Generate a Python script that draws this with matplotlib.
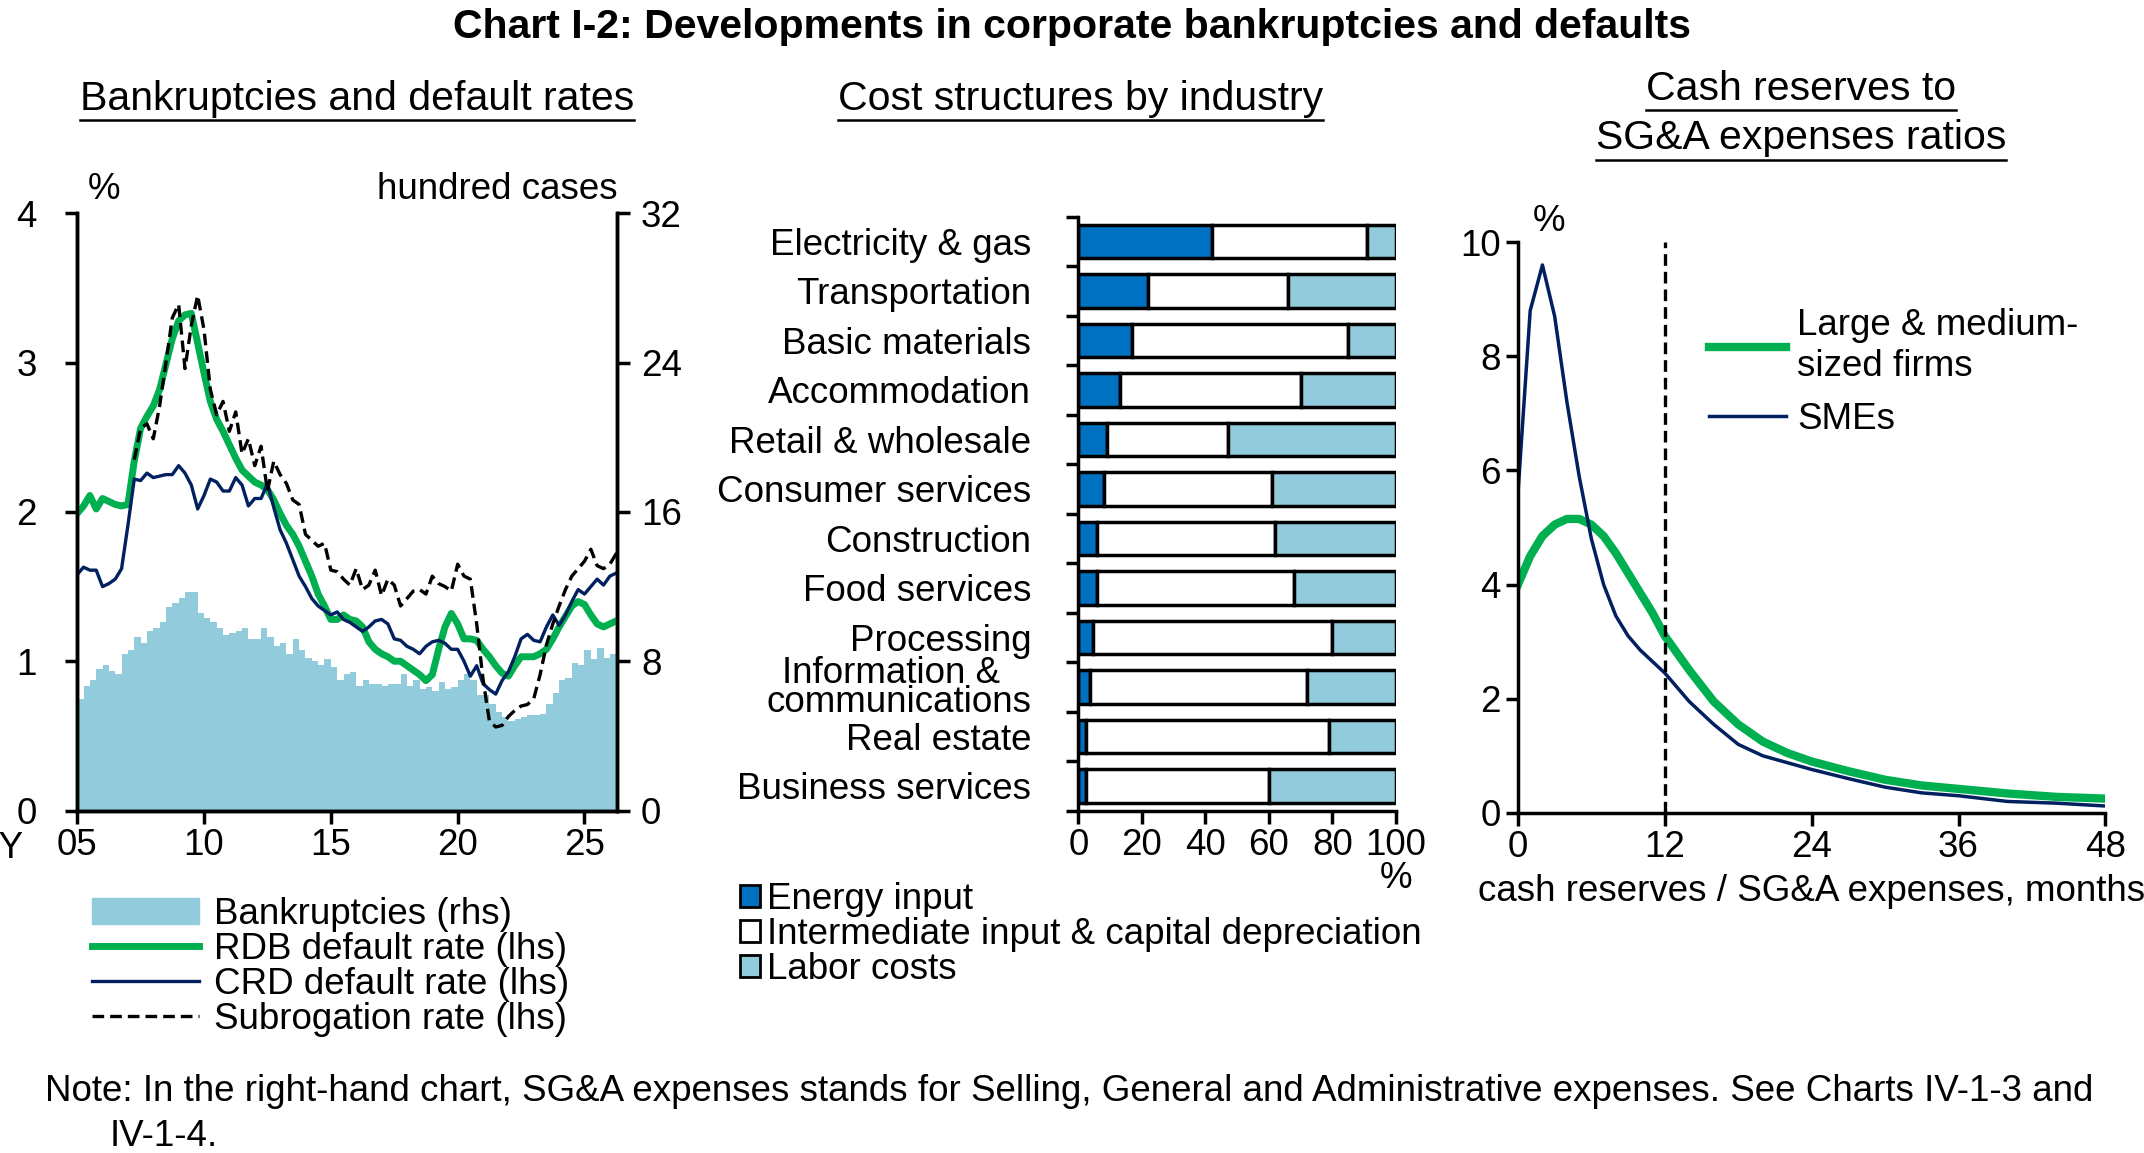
import matplotlib
matplotlib.use("Agg")
import matplotlib.pyplot as plt
import numpy as np
from matplotlib.lines import Line2D
from matplotlib.patches import Patch

plt.rcParams['font.family'] = ['Liberation Sans', 'DejaVu Sans']
plt.rcParams['font.size'] = 26.5

# ---- left panel: quarterly from CY2005
bankruptcies = [6.0, 6.7, 7.0, 7.6, 7.8, 7.5, 7.3, 8.4, 8.6, 9.3, 9.0, 9.6, 9.8, 10.1, 10.9, 11.1,
                11.4, 11.7, 11.7, 10.6, 10.3, 10.1, 9.8, 9.4, 9.5, 9.6, 9.8, 9.2, 9.2, 9.8, 9.3, 8.8,
                9.0, 8.4, 9.2, 8.6, 8.2, 8.0, 7.8, 8.1, 7.7, 7.0, 7.3, 7.4, 6.7, 7.0, 6.8, 6.8,
                6.7, 6.8, 6.8, 7.3, 6.7, 7.0, 6.5, 6.6, 6.4, 6.9, 6.5, 6.6, 7.0, 7.3, 7.0, 6.2,
                6.2, 5.7, 5.3, 5.0, 4.8, 4.9, 5.0, 5.1, 5.1, 5.2, 5.7, 6.3, 7.0, 7.1, 7.9, 7.8,
                8.6, 8.1, 8.7, 8.2, 8.4, 8.7, 8.8]
rdb_rate = [1.99, 2.04, 2.11, 2.02, 2.09, 2.07, 2.05, 2.04, 2.05, 2.34, 2.56, 2.64, 2.71, 2.82, 2.99, 3.16,
            3.28, 3.32, 3.33, 3.13, 2.93, 2.74, 2.62, 2.54, 2.45, 2.36, 2.28, 2.24, 2.20, 2.18, 2.15, 2.08,
            1.99, 1.91, 1.85, 1.77, 1.67, 1.57, 1.45, 1.37, 1.28, 1.28, 1.31, 1.28, 1.27, 1.23, 1.13, 1.08,
            1.05, 1.03, 1.00, 1.00, 0.97, 0.94, 0.91, 0.87, 0.91, 1.08, 1.23, 1.32, 1.25, 1.15, 1.15, 1.14,
            1.08, 1.03, 0.97, 0.92, 0.90, 0.97, 1.03, 1.03, 1.03, 1.05, 1.08, 1.15, 1.23, 1.30, 1.37, 1.40,
            1.38, 1.31, 1.25, 1.23, 1.25, 1.27, 1.27]
crd_rate = [1.58, 1.63, 1.61, 1.61, 1.50, 1.52, 1.55, 1.62, 1.91, 2.22, 2.21, 2.26, 2.23, 2.24, 2.25, 2.25,
            2.31, 2.26, 2.18, 2.02, 2.11, 2.22, 2.20, 2.14, 2.14, 2.23, 2.18, 2.04, 2.09, 2.09, 2.19, 2.03,
            1.88, 1.79, 1.68, 1.57, 1.50, 1.42, 1.37, 1.34, 1.31, 1.33, 1.28, 1.26, 1.23, 1.20, 1.23, 1.27,
            1.28, 1.25, 1.15, 1.14, 1.10, 1.08, 1.05, 1.10, 1.13, 1.14, 1.12, 1.08, 1.08, 1.00, 0.90, 0.97,
            0.85, 0.81, 0.78, 0.87, 0.93, 1.03, 1.15, 1.18, 1.14, 1.13, 1.23, 1.31, 1.24, 1.31, 1.40, 1.48,
            1.45, 1.50, 1.55, 1.51, 1.57, 1.59]
subrogation_start = 9
subrogation_rate = [2.35, 2.56, 2.59, 2.49, 2.71, 3.00, 3.30, 3.39, 2.96, 3.25, 3.45, 3.22, 2.82, 2.65, 2.74, 2.54,
                    2.67, 2.39, 2.49, 2.31, 2.44, 2.14, 2.34, 2.25, 2.19, 2.08, 2.05, 1.85, 1.81, 1.77, 1.79, 1.61,
                    1.60, 1.55, 1.51, 1.62, 1.48, 1.51, 1.61, 1.44, 1.55, 1.51, 1.37, 1.42, 1.47, 1.48, 1.45, 1.57,
                    1.52, 1.50, 1.47, 1.65, 1.57, 1.55, 1.25, 0.88, 0.60, 0.56, 0.57, 0.63, 0.67, 0.70, 0.71, 0.75,
                    0.91, 1.11, 1.25, 1.37, 1.48, 1.57, 1.62, 1.67, 1.75, 1.64, 1.62, 1.65, 1.72, 1.71, 1.61]

# ---- middle panel
industries = ["Electricity & gas", "Transportation", "Basic materials", "Accommodation",
              "Retail & wholesale", "Consumer services", "Construction", "Food services",
              "Processing", "Information &   \ncommunications", "Real estate", "Business services"]
energy = [42, 22, 17, 13, 9, 8, 6, 6, 4.5, 3.5, 2.5, 2.5]
intermediate = [49, 44, 68, 57, 38, 53, 56, 62, 75.5, 68.5, 76.5, 57.5]
labor = [9, 34, 15, 30, 53, 39, 38, 32, 20, 28, 21, 40]

# ---- right panel
months = [0, 1, 2, 3, 4, 5, 6, 7, 8, 9, 10, 11, 12, 14, 16, 18, 20, 22, 24, 27, 30, 33, 36, 40, 44, 48]
large_firms = [4.0, 4.5, 4.85, 5.05, 5.15, 5.15, 5.05, 4.85, 4.55, 4.2, 3.85, 3.5, 3.1, 2.5, 1.95, 1.55,
               1.25, 1.05, 0.9, 0.73, 0.58, 0.48, 0.42, 0.34, 0.28, 0.25]
smes = [5.6, 8.8, 9.6, 8.7, 7.2, 5.9, 4.8, 4.0, 3.45, 3.1, 2.85, 2.65, 2.45, 1.95, 1.55, 1.2,
        1.0, 0.88, 0.76, 0.6, 0.45, 0.35, 0.3, 0.2, 0.17, 0.12]

GREEN = "#00B050"
NAVY = "#002060"
BAR = "#92CBDC"
BLUE = "#0070C0"
DASH = (0, (3.5, 1.8))
FS = 26.5
TFS = 29.5

fig = plt.figure(figsize=(21.44, 11.53), dpi=100)

def spine_style(ax):
    for s in ax.spines.values():
        s.set_linewidth(2.5)
    ax.tick_params(width=2.5, length=9, direction='out', labelsize=FS)

# left
ax = fig.add_axes([0.036, 0.297, 0.252, 0.518])
ax2 = ax.twinx()
q = 2005 + np.arange(len(bankruptcies)) * 0.25
ax2.bar(q, bankruptcies, width=0.25, align='edge', color=BAR, linewidth=0)
ax2.set_ylim(0, 32)
ax2.set_yticks([0, 8, 16, 24, 32])
ax.set_zorder(ax2.get_zorder() + 1)
ax.patch.set_visible(False)
ax.plot(2005 + np.arange(len(rdb_rate)) * 0.25, rdb_rate, color=GREEN, lw=5)
ax.plot(2005 + np.arange(len(crd_rate)) * 0.25, crd_rate, color=NAVY, lw=2.4)
ax.plot(2005 + (subrogation_start + np.arange(len(subrogation_rate))) * 0.25, subrogation_rate,
        color='black', lw=2.4, ls=DASH)
ax.set_ylim(0, 4)
ax.set_yticks([0, 1, 2, 3, 4])
ax.set_xlim(2005, 2026.3)
ax.set_xticks([2005, 2010, 2015, 2020, 2025])
ax.set_xticklabels(['05', '10', '15', '20', '25'])
for a in (ax, ax2):
    spine_style(a)
    a.spines['top'].set_visible(False)
ax.tick_params(axis='y', pad=20)
ax2.tick_params(axis='y', pad=8)
ax.text(-0.1, -0.035, "CY", transform=ax.transAxes, ha='right', va='top', fontsize=FS)
ax.text(0.02, 1.01, "%", transform=ax.transAxes, ha='left', va='bottom', fontsize=FS)
ax.text(1.0, 1.01, "hundred cases", transform=ax.transAxes, ha='right', va='bottom', fontsize=FS)
handles = [Patch(color=BAR), Line2D([], [], color=GREEN, lw=5), Line2D([], [], color=NAVY, lw=2.4),
           Line2D([], [], color='black', lw=2.4, ls=DASH)]
fig.legend(handles, ["Bankruptcies (rhs)", "RDB default rate (lhs)", "CRD default rate (lhs)",
                     "Subrogation rate (lhs)"], loc='upper left', bbox_to_anchor=(0.043, 0.222),
           frameon=False, handlelength=2.9, labelspacing=0.0, handletextpad=0.4, fontsize=FS,
           borderaxespad=0, borderpad=0)

# middle
axm = fig.add_axes([0.503, 0.297, 0.148, 0.515])
y = np.arange(len(industries))
left = np.zeros(len(industries))
for vals, col in ((energy, BLUE), (intermediate, 'white'), (labor, BAR)):
    axm.barh(y, vals, left=left, height=0.68, color=col, edgecolor='black', linewidth=2.5)
    left = left + np.array(vals)
axm.set_ylim(len(industries) - 0.5, -0.5)
axm.set_xlim(0, 100)
axm.set_xticks([0, 20, 40, 60, 80, 100])
axm.set_yticks(np.arange(-0.5, len(industries), 1.0))
axm.set_yticklabels([])
axm.set_yticks(y, minor=True)
axm.set_yticklabels(industries, minor=True, fontsize=FS, linespacing=0.8)
axm.tick_params(axis='y', which='minor', length=0, pad=34)
spine_style(axm)
axm.spines['top'].set_visible(False)
axm.spines['right'].set_visible(False)
axm.text(1.0, -0.085, "%", transform=axm.transAxes, ha='center', va='top', fontsize=FS)
mh = [Patch(facecolor=c, edgecolor='black', linewidth=2) for c in (BLUE, 'white', BAR)]
fig.legend(mh, ["Energy input", "Intermediate input & capital depreciation", "Labor costs"],
           loc='upper left', bbox_to_anchor=(0.345, 0.235), frameon=False, handlelength=0.55,
           handleheight=0.55, labelspacing=0.0, handletextpad=0.2, fontsize=FS,
           borderaxespad=0, borderpad=0)

# right
axr = fig.add_axes([0.708, 0.295, 0.274, 0.495])
axr.plot(months, large_firms, color=GREEN, lw=6, label="Large & medium-\nsized firms")
axr.plot(months, smes, color=NAVY, lw=2.5, label="SMEs")
axr.axvline(12, color='black', lw=2.4, ls=DASH)
axr.set_xlim(0, 48)
axr.set_ylim(0, 10)
axr.set_xticks([0, 12, 24, 36, 48])
axr.set_yticks([0, 2, 4, 6, 8, 10])
spine_style(axr)
axr.spines['top'].set_visible(False)
axr.spines['right'].set_visible(False)
axr.set_xlabel("cash reserves / SG&A expenses, months", fontsize=FS, labelpad=6)
axr.text(0.025, 1.005, "%", transform=axr.transAxes, ha='left', va='bottom', fontsize=FS)
axr.legend(loc='upper left', bbox_to_anchor=(0.3, 0.91), frameon=False, handlelength=2.1,
           handletextpad=0.3, labelspacing=0.5, fontsize=FS, borderaxespad=0)

# titles
fig.text(0.5, 0.977, "Chart I-2: Developments in corporate bankruptcies and defaults",
         ha='center', va='center', fontsize=TFS, fontweight='bold')
subtitles = [(0.1665, 0.914, "Bankruptcies and default rates"),
             (0.504, 0.914, "Cost structures by industry"),
             (0.84, 0.923, "Cash reserves to"),
             (0.84, 0.880, "SG&A expenses ratios")]
texts = [fig.text(x, yy, s, ha='center', va='center', fontsize=TFS) for x, yy, s in subtitles]
fig.text(0.021, 0.053, "Note: In the right-hand chart, SG&A expenses stands for Selling, General and "
         "Administrative expenses. See Charts IV-1-3 and", ha='left', va='center', fontsize=FS)
fig.text(0.051, 0.014, "IV-1-4.", ha='left', va='center', fontsize=FS)

fig.canvas.draw()
inv = fig.transFigure.inverted()
for t in texts:
    bb = t.get_window_extent().transformed(inv)
    fig.add_artist(Line2D([bb.x0, bb.x1], [bb.y0 - 0.002, bb.y0 - 0.002], color='black', lw=1.8))

fig.savefig("out.png", dpi=100)
